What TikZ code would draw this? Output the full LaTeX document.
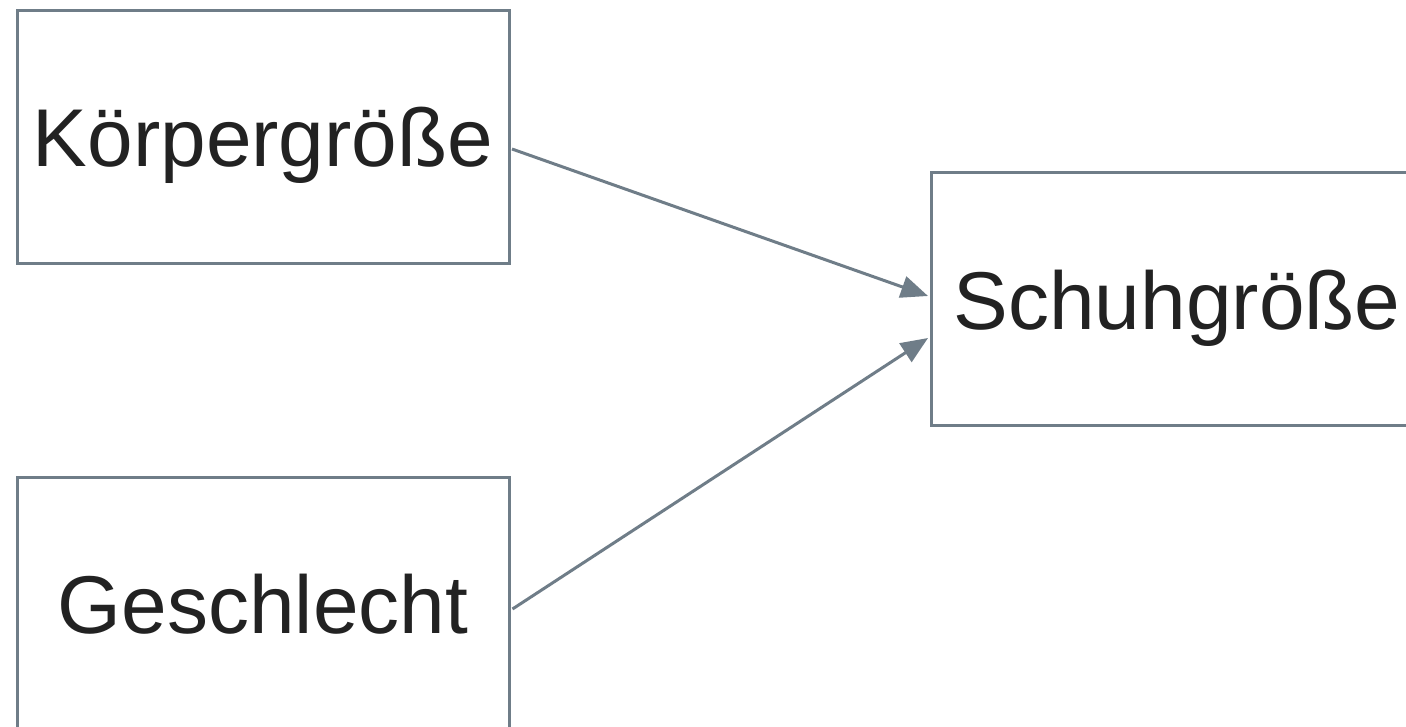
\documentclass[tikz,border=0pt]{standalone}
\usepackage{fontspec}
\setmainfont{Liberation Sans}
\usetikzlibrary{arrows.meta,calc}
\definecolor{boxgray}{HTML}{6F7D88}
\definecolor{txt}{HTML}{222222}
\tikzset{
  varbox/.style={draw=boxgray, line width=3pt, fill=white, minimum width=492pt, minimum height=253pt, inner sep=0pt, text height=60pt, text depth=0pt, text=txt, font=\fontsize{82}{98}\selectfont},
  conn/.style={draw=boxgray, line width=3pt, -{Triangle[length=27pt,width=22pt]}}
}
\begin{document}
\begin{tikzpicture}[x=1pt,y=-1pt]
\useasboundingbox (0,0) rectangle (1406,726);
\clip (0,0) rectangle (1406,726);
\node[varbox] (k) at (263,136.5) {Körpergröße};
\node[varbox] (g) at (263,603.5) {Geschlecht};
\node[varbox] (s) at (1177,299) {Schuhgröße};
\coordinate (ks) at ($(k.east)+(1.5,12.5)$);
\coordinate (gs) at ($(g.east)+(2,5.5)$);
\coordinate (se1) at ($(s.west)+(-1.5,-3)$);
\coordinate (se2) at ($(s.west)+(-1.5,39)$);
\draw[conn] (ks) -- (se1);
\draw[conn] (gs) -- (se2);
\end{tikzpicture}
\end{document}
